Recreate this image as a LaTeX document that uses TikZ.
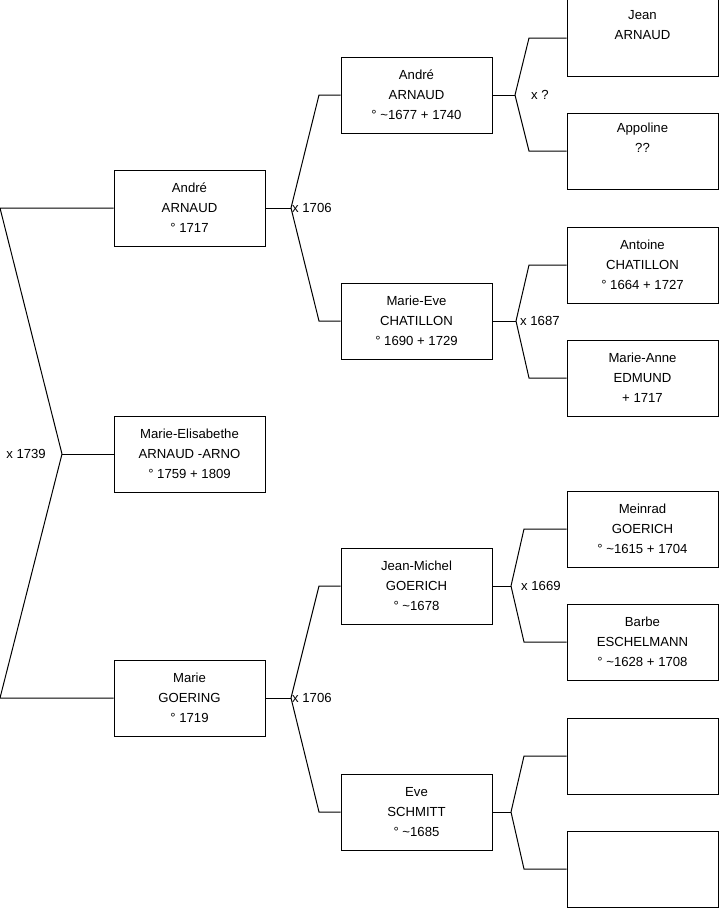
\documentclass[tikz,border=0pt]{standalone}
\usepackage{fontspec}
\setmainfont{Liberation Sans}

\begin{document}
\begin{tikzpicture}[x=1bp, y=-1bp,
		personbox/.style={draw, line width=1bp, minimum width=151bp, minimum height=76bp, inner sep=0pt, align=center, font=\fontsize{13.2}{20}\selectfont},
		marriagelabel/.style={inner sep=0pt, font=\fontsize{13.2}{15}\selectfont},
		branchline/.style={line width=1bp}]
		\useasboundingbox (0,0) rectangle (719,908);
		
		\node (andre1717) [personbox] at (189.5,208) {André\\ARNAUD\\° 1717};
		\node (marieelis) [personbox] at (189.5,454) {Marie-Elisabethe\\ARNAUD -ARNO\\° 1759 + 1809};
		\node (marie1719) [personbox] at (189.5,698) {Marie\\GOERING\\° 1719};
		
		\node (andre1677) [personbox] at (416.5,95) {André\\ARNAUD\\° \textasciitilde1677 + 1740};
		\node (marieeve) [personbox] at (416.5,321) {Marie-Eve\\CHATILLON\\° 1690 + 1729};
		\node (jeanmichel) [personbox] at (416.5,586) {Jean-Michel\\GOERICH\\° \textasciitilde1678};
		\node (eve) [personbox] at (416.5,812) {Eve\\SCHMITT\\° \textasciitilde1685};
		
		\node (jean) [personbox] at (642.5,38) {Jean\\ARNAUD\\\strut};
		\node (appoline) [personbox] at (642.5,151) {Appoline\\??\\\strut};
		\node (antoine) [personbox] at (642.5,265) {Antoine\\CHATILLON\\° 1664 + 1727};
		\node (marieanne) [personbox] at (642.5,378) {Marie-Anne\\EDMUND\\+ 1717};
		\node (meinrad) [personbox] at (642.5,529) {Meinrad\\GOERICH\\° \textasciitilde1615 + 1704};
		\node (barbe) [personbox] at (642.5,642) {Barbe\\ESCHELMANN\\° \textasciitilde1628 + 1708};
		\node (empty1) [personbox] at (642.5,756) {};
		\node (empty2) [personbox] at (642.5,869) {};
		
		\coordinate (x1739) at (62,454);
		\coordinate (x1739up) at (0,208);
		\coordinate (x1739down) at (0,698);
		\coordinate (x1706a) at (291,208);
		\coordinate (x1706aup) at (319,95);
		\coordinate (x1706adown) at (319,321);
		\coordinate (xq) at (515,95);
		\coordinate (xqup) at (529,38);
		\coordinate (xqdown) at (529,151);
		\coordinate (x1687) at (516,321);
		\coordinate (x1687up) at (529,265);
		\coordinate (x1687down) at (529,378);
		\coordinate (x1706b) at (291,698);
		\coordinate (x1706bup) at (319,586);
		\coordinate (x1706bdown) at (319,812);
		\coordinate (x1669) at (511,586);
		\coordinate (x1669up) at (524,529);
		\coordinate (x1669down) at (524,642);
		\coordinate (xeve) at (511,812);
		\coordinate (xeveup) at (524,756);
		\coordinate (xevedown) at (524,869);
		
		\draw[branchline] (marieelis.west) -- (x1739);
		\draw[branchline] (x1739) -- (x1739up) -- (andre1717.west);
		\draw[branchline] (x1739) -- (x1739down) -- (marie1719.west);
		
		\draw[branchline] (andre1717.east) -- (x1706a);
		\draw[branchline] (x1706a) -- (x1706aup) -- (andre1677.west);
		\draw[branchline] (x1706a) -- (x1706adown) -- (marieeve.west);
		
		\draw[branchline] (marie1719.east) -- (x1706b);
		\draw[branchline] (x1706b) -- (x1706bup) -- (jeanmichel.west);
		\draw[branchline] (x1706b) -- (x1706bdown) -- (eve.west);
		
		\draw[branchline] (andre1677.east) -- (xq);
		\draw[branchline] (xq) -- (xqup) -- (jean.west);
		\draw[branchline] (xq) -- (xqdown) -- (appoline.west);
		
		\draw[branchline] (marieeve.east) -- (x1687);
		\draw[branchline] (x1687) -- (x1687up) -- (antoine.west);
		\draw[branchline] (x1687) -- (x1687down) -- (marieanne.west);
		
		\draw[branchline] (jeanmichel.east) -- (x1669);
		\draw[branchline] (x1669) -- (x1669up) -- (meinrad.west);
		\draw[branchline] (x1669) -- (x1669down) -- (barbe.west);
		
		\draw[branchline] (eve.east) -- (xeve);
		\draw[branchline] (xeve) -- (xeveup) -- (empty1.west);
		\draw[branchline] (xeve) -- (xevedown) -- (empty2.west);
		
		\node (lab1739) [marriagelabel, anchor=east] at ([xshift=-16bp]x1739) {x 1739};
		\node (lab1706a) [marriagelabel, anchor=west] at ([xshift=1bp]x1706a) {x 1706};
		\node (lab1706b) [marriagelabel, anchor=west] at ([xshift=1bp]x1706b) {x 1706};
		\node (labq) [marriagelabel, anchor=west] at ([xshift=16bp]xq) {x ?};
		\node (lab1687) [marriagelabel, anchor=west] at ([xshift=4bp]x1687) {x 1687};
		\node (lab1669) [marriagelabel, anchor=west] at ([xshift=10bp]x1669) {x 1669};
		
	\end{tikzpicture}
\end{document}
